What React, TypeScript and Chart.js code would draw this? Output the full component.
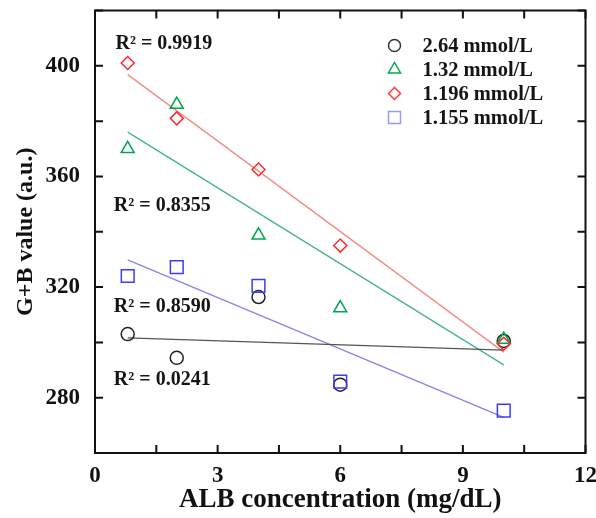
import React, { useEffect, useRef } from 'react';
import { Chart, registerables } from 'chart.js';

Chart.register(...registerables);

// ---- data ----
const albConcentration = [0.8, 2, 4, 6, 10];
const series264 = [303, 294.4, 316.4, 284.7, 300.5];
const series132 = [370, 386, 338.7, 312.4, 301];
const series1196 = [401, 381, 362.5, 335, 299.5];
const series1155 = [324, 327.2, 320.4, 285.8, 275.3];
const seriesLabels = ['2.64 mmol/L', '1.32 mmol/L', '1.196 mmol/L', '1.155 mmol/L'];
const r2Texts = ['R² = 0.0241', 'R² = 0.8355', 'R² = 0.9919', 'R² = 0.8590'];
const xTickLabels = [0, 3, 6, 9, 12];
const yTickLabels = [280, 320, 360, 400];
const xTickMarks = [0, 1.5, 3, 4.5, 6, 7.5, 9, 10.5, 12];
const yTickMarks = [260, 280, 300, 320, 340, 360, 380, 400, 420];

// ---- styles ----
const FONT = '"Liberation Serif", "Times New Roman", serif';
const styles = [
  { color: '#222222', legend: '#333333', line: '#555555', pointStyle: 'circle', radius: 6.5 },
  { color: '#00a651', legend: '#00a651', line: '#45b48c', pointStyle: 'triangle', radius: 7.5 },
  { color: '#ff2a2a', legend: '#ff3b3b', line: '#f28a84', pointStyle: 'rectRot', radius: 6.5 },
  { color: '#3b3bff', legend: '#9a9ae6', line: '#8585e6', pointStyle: 'rect', radius: 9 },
];
// R² label anchors (data coordinates, text left-aligned)
const r2Anchors = [
  { x: 0.46, y: 286.5 },
  { x: 0.46, y: 349.5 },
  { x: 0.5, y: 407.9 },
  { x: 0.46, y: 312.8 },
];

const allSeries = [series264, series132, series1196, series1155];

function linearFit(xs: number[], ys: number[]) {
  const n = xs.length;
  const mx = xs.reduce((a, b) => a + b, 0) / n;
  const my = ys.reduce((a, b) => a + b, 0) / n;
  let sxy = 0;
  let sxx = 0;
  for (let i = 0; i < n; i++) {
    sxy += (xs[i] - mx) * (ys[i] - my);
    sxx += (xs[i] - mx) * (xs[i] - mx);
  }
  const slope = sxy / sxx;
  const intercept = my - slope * mx;
  const x0 = xs[0];
  const x1 = xs[n - 1];
  return [
    { x: x0, y: intercept + slope * x0 },
    { x: x1, y: intercept + slope * x1 },
  ];
}

function drawMarker(ctx: CanvasRenderingContext2D, style: string, cx: number, cy: number, r: number) {
  ctx.beginPath();
  if (style === 'circle') {
    ctx.arc(cx, cy, r, 0, Math.PI * 2);
  } else if (style === 'triangle') {
    ctx.moveTo(cx, cy - r);
    ctx.lineTo(cx + r * 0.866, cy + r * 0.5);
    ctx.lineTo(cx - r * 0.866, cy + r * 0.5);
    ctx.closePath();
  } else if (style === 'rectRot') {
    ctx.moveTo(cx, cy - r);
    ctx.lineTo(cx + r, cy);
    ctx.lineTo(cx, cy + r);
    ctx.lineTo(cx - r, cy);
    ctx.closePath();
  } else {
    const s = r * Math.SQRT1_2;
    ctx.rect(cx - s, cy - s, 2 * s, 2 * s);
  }
  ctx.stroke();
}

const framePlugin = {
  id: 'frameAndDecor',
  afterDatasetsDraw(chart: any) {
    const { ctx, chartArea } = chart;
    const { left, right, top, bottom } = chartArea;
    const xs = chart.scales.x;
    const ys = chart.scales.y;
    ctx.save();
    ctx.strokeStyle = '#111111';
    ctx.lineWidth = 2;
    ctx.strokeRect(left, top, right - left, bottom - top);
    ctx.beginPath();
    const tl = 8;
    xTickMarks.forEach((v) => {
      const px = xs.getPixelForValue(v);
      ctx.moveTo(px, bottom);
      ctx.lineTo(px, bottom - tl);
      ctx.moveTo(px, top);
      ctx.lineTo(px, top + tl);
    });
    yTickMarks.forEach((v) => {
      const py = ys.getPixelForValue(v);
      ctx.moveTo(left, py);
      ctx.lineTo(left + tl, py);
      ctx.moveTo(right, py);
      ctx.lineTo(right - tl, py);
    });
    ctx.stroke();

    // R² annotations
    ctx.fillStyle = '#151515';
    ctx.font = `bold 20px ${FONT}`;
    ctx.textAlign = 'left';
    ctx.textBaseline = 'middle';
    r2Texts.forEach((t, i) => {
      ctx.fillText(t, xs.getPixelForValue(r2Anchors[i].x), ys.getPixelForValue(r2Anchors[i].y));
    });

    // legend
    const symX = right - 191;
    const textX = right - 163;
    seriesLabels.forEach((label, i) => {
      const cy = top + 35 + i * 24;
      ctx.strokeStyle = styles[i].legend;
      ctx.lineWidth = 1.5;
      const r = styles[i].pointStyle === 'rect' ? 8.5 : styles[i].pointStyle === 'triangle' ? 7 : 6;
      drawMarker(ctx, styles[i].pointStyle, symX, cy, r);
      ctx.fillStyle = '#151515';
      ctx.font = `bold 20.5px ${FONT}`;
      ctx.fillText(label, textX, cy + 1);
    });
    ctx.restore();
  },
};

export default function App() {
  const canvasRef = useRef<HTMLCanvasElement | null>(null);

  useEffect(() => {
    if (!canvasRef.current) return;
    const lineSets = allSeries.map((s, i) => ({
      label: 'fit ' + seriesLabels[i],
      data: linearFit(albConcentration, s),
      showLine: true,
      borderColor: styles[i].line,
      borderWidth: 1.3,
      pointRadius: 0,
      fill: false,
      order: 10,
    }));
    const pointSets = allSeries.map((s, i) => ({
      label: seriesLabels[i],
      data: albConcentration.map((x, j) => ({ x, y: s[j] })),
      showLine: false,
      pointStyle: styles[i].pointStyle,
      pointRadius: styles[i].radius,
      pointBorderWidth: 1.5,
      borderColor: styles[i].color,
      backgroundColor: 'rgba(0,0,0,0)',
      pointBackgroundColor: 'rgba(0,0,0,0)',
      pointBorderColor: styles[i].color,
      order: 4 - i,
    }));

    const chart = new Chart(canvasRef.current, {
      type: 'scatter',
      data: { datasets: [...lineSets, ...pointSets] as any },
      options: {
        animation: false,
        responsive: true,
        maintainAspectRatio: false,
        layout: { padding: { top: 10, right: 8, left: 0, bottom: 0 } },
        plugins: { legend: { display: false }, tooltip: { enabled: false } },
        scales: {
          x: {
            type: 'linear',
            min: 0,
            max: 12,
            afterBuildTicks: (scale: any) => {
              scale.ticks = xTickLabels.map((v) => ({ value: v }));
            },
            afterFit: (scale: any) => {
              scale.height = 65;
              scale.paddingLeft = 0;
              scale.paddingRight = 0;
            },
            grid: { display: false, drawTicks: false },
            border: { display: false },
            ticks: {
              color: '#111111',
              padding: 9,
              maxRotation: 0,
              autoSkip: false,
              font: { family: FONT, size: 23, weight: 'bold' },
            },
            title: {
              display: true,
              text: 'ALB concentration (mg/dL)',
              color: '#111111',
              font: { family: FONT, size: 27, weight: 'bold', lineHeight: 1.2 },
              padding: { top: 0, bottom: 2 },
            },
          },
          y: {
            type: 'linear',
            min: 260,
            max: 420,
            afterBuildTicks: (scale: any) => {
              scale.ticks = yTickLabels.map((v) => ({ value: v }));
            },
            afterFit: (scale: any) => {
              scale.width = 95;
              scale.paddingTop = 0;
              scale.paddingBottom = 0;
            },
            grid: { display: false, drawTicks: false },
            border: { display: false },
            ticks: {
              color: '#111111',
              padding: 15,
              autoSkip: false,
              font: { family: FONT, size: 23, weight: 'bold' },
            },
            title: {
              display: true,
              text: 'G+B value (a.u.)',
              color: '#111111',
              font: { family: FONT, size: 24, weight: 'bold', lineHeight: 1.2 },
              padding: { top: 11, bottom: 0 },
            },
          },
        },
      },
      plugins: [framePlugin],
    });
    return () => chart.destroy();
  }, []);

  return (
    <div style={{ position: 'fixed', left: 0, top: 0, width: 596, height: 518, background: '#ffffff' }}>
      <canvas ref={canvasRef} />
    </div>
  );
}
